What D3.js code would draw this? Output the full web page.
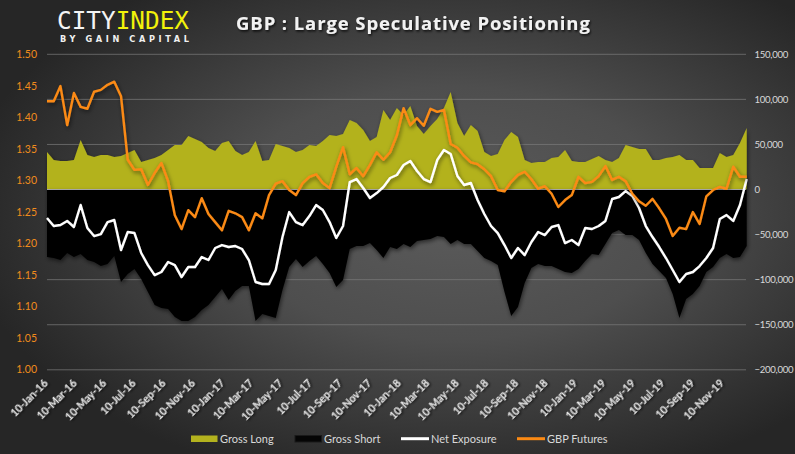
<!DOCTYPE html>
<html><head><meta charset="utf-8">
<script src="https://cdn.jsdelivr.net/npm/d3@7/dist/d3.min.js"></script>
<style>html,body{margin:0;padding:0;background:#333;}svg{display:block;}</style>
</head><body>
<svg id="c" width="795" height="454"></svg>
<script>
// ---- data ----
const startDate = "2016-01-10";
const endDate = "2019-12-29";
const grossLong = [41600,32700,31600,31600,32700,54900,38300,36100,38300,38300,
36100,37200,40500,43800,30500,32700,34900,38300,43800,49400,
49400,59300,56000,52700,46000,42700,51600,53800,42700,38300,
41600,53800,31600,32700,50500,48300,46000,41600,43800,49400,
48300,53800,60500,59300,61600,77100,73800,66000,53800,58200,
88200,77100,90400,82600,92600,70400,61600,70400,78200,90400,
108200,73800,59300,71600,64900,41600,37200,39400,54900,63800,
58200,32700,29400,30500,30500,34900,36100,43800,31600,30500,
30500,33800,37200,32700,30500,34900,49400,47100,44900,44900,
32700,32700,34900,36100,38300,32700,32700,23900,23900,23900,
40500,36100,38300,51600,68200];
const grossShort = [-74900,-76000,-78200,-70400,-74900,-71600,-78200,-80400,-84900,-82600,
-73800,-102600,-93700,-88200,-99300,-113700,-128100,-131500,-132600,-141400,
-145900,-145900,-141400,-133700,-128100,-119300,-110400,-122600,-112600,-107100,
-107100,-145900,-138100,-140400,-142600,-111500,-86000,-77100,-86000,-79300,
-73800,-82600,-92600,-108200,-100400,-66000,-62700,-62700,-59400,-67000,
-76000,-63800,-66000,-60500,-63800,-57100,-56000,-54900,-51600,-52700,
-60500,-56000,-60500,-60500,-68200,-76000,-79300,-83700,-113700,-140400,
-130400,-103700,-87100,-82600,-84900,-84900,-88200,-91500,-92600,-88200,
-79300,-71600,-72700,-60500,-48300,-44900,-50500,-50500,-56000,-70400,
-82600,-90400,-98200,-115900,-142600,-121500,-115900,-107100,-91500,-86000,
-76000,-71600,-76000,-74900,-62700];
const netExposure = [-31600,-40500,-39400,-34900,-41600,-17200,-42700,-51600,-49400,-36100,
-33800,-67100,-47100,-48300,-70400,-83800,-94900,-91500,-80400,-83800,
-97100,-86000,-86000,-74900,-78200,-64900,-61600,-63800,-62700,-66000,
-78200,-102600,-104800,-104800,-89300,-52700,-25000,-36100,-39400,-29400,
-17200,-22700,-36100,-53800,-40500,8300,11600,1700,-9400,-3900,
2800,12800,16100,27200,31600,20500,11600,8300,32700,43800,
39400,15000,5000,7200,-11600,-27200,-40500,-48300,-61600,-76000,
-64900,-72700,-58200,-47100,-50500,-41600,-39400,-59400,-56000,-61600,
-42700,-43800,-40500,-34900,-10500,-8300,-1700,-7200,-20500,-40500,
-52700,-63800,-76000,-89300,-102600,-93700,-91500,-84900,-76000,-64900,
-32700,-28300,-34900,-17200,11600];
const gbpFutures = [1.426,1.426,1.450,1.388,1.439,1.417,1.414,1.441,1.444,1.452,
1.457,1.434,1.333,1.317,1.318,1.293,1.312,1.328,1.299,1.245,
1.223,1.253,1.242,1.272,1.247,1.234,1.221,1.252,1.248,1.242,
1.221,1.248,1.240,1.277,1.295,1.299,1.285,1.277,1.296,1.306,
1.310,1.296,1.288,1.322,1.353,1.310,1.320,1.307,1.325,1.345,
1.333,1.345,1.372,1.415,1.388,1.399,1.387,1.414,1.409,1.412,
1.358,1.352,1.339,1.329,1.326,1.318,1.307,1.285,1.283,1.298,
1.309,1.314,1.302,1.287,1.291,1.279,1.258,1.269,1.277,1.306,
1.296,1.298,1.307,1.323,1.301,1.306,1.299,1.279,1.267,1.260,
1.271,1.256,1.239,1.212,1.225,1.223,1.250,1.231,1.275,1.285,
1.290,1.287,1.322,1.306,1.306];
const leftTicks = [1.00,1.05,1.10,1.15,1.20,1.25,1.30,1.35,1.40,1.45,1.50];
const rightTicks = [-200000,-150000,-100000,-50000,0,50000,100000,150000];
const xTickLabels = ["10-Jan-16","10-Mar-16","10-May-16","10-Jul-16","10-Sep-16","10-Nov-16",
"10-Jan-17","10-Mar-17","10-May-17","10-Jul-17","10-Sep-17","10-Nov-17",
"10-Jan-18","10-Mar-18","10-May-18","10-Jul-18","10-Sep-18","10-Nov-18",
"10-Jan-19","10-Mar-19","10-May-19","10-Jul-19","10-Sep-19","10-Nov-19"];
const seriesNames = ["Gross Long","Gross Short","Net Exposure","GBP Futures"];
const title = "GBP : Large Speculative Positioning";

// ---- build ----
const parseDay = d3.timeParse("%Y-%m-%d");
const parseTick = d3.timeParse("%d-%b-%y");
const t0 = parseDay(startDate), t1 = parseDay(endDate);
const n = grossLong.length;
const dates = d3.range(n).map(i => new Date(+t0 + (t1 - t0) * i / (n - 1)));
const rows = dates.map((d, i) => ({d, gl: grossLong[i], gs: grossShort[i], ne: netExposure[i], fx: gbpFutures[i]}));

const W = 795, H = 454;
const x = d3.scaleTime().domain([t0, t1]).range([47, 746.7]);
const yR = d3.scaleLinear().domain([-200000, 150000]).range([369.8, 54.3]);
const yL = d3.scaleLinear().domain([1.0, 1.5]).range([369.5, 54.6]);

const svg = d3.select("#c");
const defs = svg.append("defs");
const rg = defs.append("radialGradient").attr("id", "bg").attr("cx", "0.57").attr("cy", "0.47").attr("r", "0.62");
rg.append("stop").attr("offset", "0").attr("stop-color", "#5b5b5b");
rg.append("stop").attr("offset", "0.45").attr("stop-color", "#4e4e4e");
rg.append("stop").attr("offset", "1").attr("stop-color", "#262626");
const f = defs.append("filter").attr("id", "sh").attr("x", "-5%").attr("y", "-10%").attr("width", "110%").attr("height", "130%");
f.append("feDropShadow").attr("dx", 1).attr("dy", 2).attr("stdDeviation", 2).attr("flood-color", "#000").attr("flood-opacity", 0.55);
const ft = defs.append("filter").attr("id", "tsh");
ft.append("feDropShadow").attr("dx", 1).attr("dy", 1.5).attr("stdDeviation", 1).attr("flood-color", "#000").attr("flood-opacity", 0.8);

svg.append("rect").attr("width", W).attr("height", H).attr("fill", "url(#bg)");

// gridlines (right axis)
svg.append("g").selectAll("line").data(rightTicks.filter(v => v !== 0)).join("line")
  .attr("x1", 47).attr("x2", 746).attr("y1", d => yR(d)).attr("y2", d => yR(d))
  .attr("stroke", "#7c7c7c").attr("stroke-opacity", 0.7).attr("stroke-width", 1);

// areas
svg.append("path").datum(rows)
  .attr("d", d3.area().x(d => x(d.d)).y0(yR(0)).y1(d => yR(d.gl)))
  .attr("fill", "#b3b21e").attr("filter", "url(#sh)");
svg.append("path").datum(rows)
  .attr("d", d3.area().x(d => x(d.d)).y0(yR(0)).y1(d => yR(d.gs)))
  .attr("fill", "#050505").attr("filter", "url(#sh)");

// zero axis line
svg.append("line").attr("x1", 47).attr("x2", 746).attr("y1", yR(0)).attr("y2", yR(0))
  .attr("stroke", "#a6a6a6").attr("stroke-width", 1.2);

// lines
svg.append("path").datum(rows)
  .attr("d", d3.line().x(d => x(d.d)).y(d => yR(d.ne)))
  .attr("fill", "none").attr("stroke", "#ffffff").attr("stroke-width", 2.4)
  .attr("stroke-linejoin", "round").attr("filter", "url(#sh)");
svg.append("path").datum(rows)
  .attr("d", d3.line().x(d => x(d.d)).y(d => yL(d.fx)))
  .attr("fill", "none").attr("stroke", "#fb8a14").attr("stroke-width", 2.4)
  .attr("stroke-linejoin", "round").attr("filter", "url(#sh)");

// left axis
const fmtL = d3.format(".2f");
svg.append("g").selectAll("text").data(leftTicks).join("text")
  .attr("x", 37).attr("y", d => yL(d)).attr("dy", "0.35em").attr("text-anchor", "end")
  .attr("font-family", "Lato, sans-serif").attr("font-size", 10.5).attr("fill", "#f08c1c")
  .text(d => fmtL(d));
// right axis
const fmtR = d3.format(",");
svg.append("g").selectAll("text").data(rightTicks).join("text")
  .attr("x", 754.5).attr("y", d => yR(d)).attr("dy", "0.35em").attr("text-anchor", "start")
  .attr("font-family", "Lato, sans-serif").attr("font-size", 9.6).attr("letter-spacing", -0.3)
  .attr("fill", "#d9d9d9")
  .text(d => fmtR(d));
// x axis labels
svg.append("g").selectAll("text").data(xTickLabels).join("text")
  .attr("transform", d => `translate(${x(parseTick(d)) + 1.5},384) rotate(-45)`)
  .attr("text-anchor", "end")
  .attr("font-family", "Lato, sans-serif").attr("font-size", 10.5).attr("font-weight", "bold")
  .attr("fill", "#e4e4e4").attr("filter", "url(#tsh)")
  .text(d => d);

// legend
const lg = svg.append("g").attr("font-family", "Lato, sans-serif").attr("font-size", 11).attr("fill", "#d9d9d9");
const legendItems = [
  {name: seriesNames[0], type: "rect", color: "#b3b21e", x: 191},
  {name: seriesNames[1], type: "rect", color: "#050505", x: 295},
  {name: seriesNames[2], type: "line", color: "#ffffff", x: 401},
  {name: seriesNames[3], type: "line", color: "#fb8a14", x: 517}
];
legendItems.forEach(it => {
  if (it.type === "rect") {
    lg.append("rect").attr("x", it.x).attr("y", 435.5).attr("width", 26.5).attr("height", 6.5)
      .attr("fill", it.color).attr("stroke", it.color === "#050505" ? "#1a1a1a" : "none");
  } else {
    lg.append("line").attr("x1", it.x).attr("x2", it.x + 28).attr("y1", 438.7).attr("y2", 438.7)
      .attr("stroke", it.color).attr("stroke-width", 3);
  }
  lg.append("text").attr("x", it.x + (it.type === "rect" ? 29 : 30)).attr("y", 438.7).attr("dy", "0.35em")
    .text(it.name);
});

// logo
const logo = svg.append("g");
const lt = logo.append("text").attr("x", 57).attr("y", 29)
  .attr("font-family", "DejaVu Sans Mono, monospace").attr("font-size", 24.5)
  .attr("textLength", 132).attr("lengthAdjust", "spacingAndGlyphs");
lt.append("tspan").attr("fill", "#f4f4f4").text("CITY");
lt.append("tspan").attr("fill", "#f2f20a").text("INDEX");
logo.append("text").attr("x", 60).attr("y", 41.5)
  .attr("font-family", "DejaVu Sans, sans-serif").attr("font-size", 8.2).attr("font-weight", "bold")
  .attr("fill", "#f0f0f0").attr("textLength", 129).attr("lengthAdjust", "spacing")
  .text("BY GAIN CAPITAL");

// title
svg.append("text").attr("x", 236).attr("y", 30)
  .attr("font-family", "Open Sans, sans-serif").attr("font-size", 18.5).attr("font-weight", "bold")
  .attr("letter-spacing", 0.9)
  .attr("fill", "#f2f2f2").attr("filter", "url(#tsh)")
  .text(title);
</script>
</body></html>
